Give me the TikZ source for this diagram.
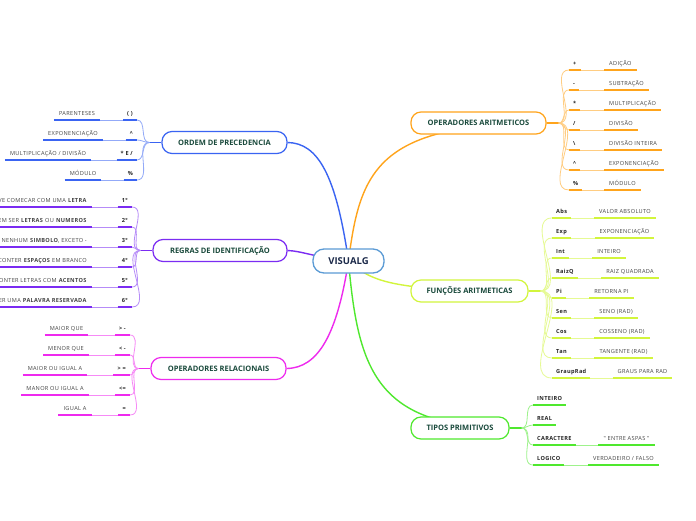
\documentclass[tikz,border=0pt]{standalone}
\usepackage{fontspec}
\setmainfont{Open Sans}
\newfontfamily\leaffont[LetterSpace=6]{Open Sans}
\usepackage{xcolor}
\usetikzlibrary{positioning,backgrounds}
\definecolor{CT}{HTML}{5B9BD5}
\definecolor{NV}{HTML}{1C2A4A}
\definecolor{TG}{HTML}{1A4A3C}
\definecolor{BL}{HTML}{3A64F2}
\definecolor{PU}{HTML}{7B2CF2}
\definecolor{MG}{HTML}{EE2AEE}
\definecolor{OR}{HTML}{FFA41B}
\definecolor{LM}{HTML}{D2F53C}
\definecolor{GR}{HTML}{4FE82E}
\definecolor{TX}{HTML}{444444}
\tikzset{
  root/.style={draw=CT, fill=white, line width=1.3pt, rounded corners=11pt,
    minimum width=71, minimum height=24,
    font=\fontsize{9.5}{11}\selectfont\bfseries\color{NV}},
  branch/.style={draw=#1, fill=white, line width=1.2pt, rounded corners=10pt,
    minimum height=22,
    font=\fontsize{7.5}{9}\selectfont\bfseries\color{TG}},
  key/.style={inner xsep=4pt, inner ysep=3.5pt, text height=4.2pt, text depth=1pt,
    font=\leaffont\fontsize{5.6}{7}\selectfont\bfseries\color{black!85}},
  desc/.style={key, inner xsep=5pt,
    font=\leaffont\fontsize{5.6}{7}\selectfont\color{TX}},
  mainlink/.style={draw=#1, line width=1.4pt},
  twig/.style={draw=#1!55, line width=0.8pt},
  bar/.style={draw=#1, line width=1.6pt}
}

\begin{document}
\begin{tikzpicture}[x=1pt, y=-1pt]
  \useasboundingbox (0,0) rectangle (696,520);
  \clip (0,0) rectangle (696,520);

  % root and main topics
  \node[root] (vis) at (348.5,261) {VISUALG};
  \node[branch=BL, minimum width=125] (ordem) at (224.5,142.5) {ORDEM DE PRECEDENCIA};
  \node[branch=PU, minimum width=134] (regras) at (220,250.5) {REGRAS DE IDENTIFICAÇÃO};
  \node[branch=MG, minimum width=135] (rel) at (218.5,368.5) {OPERADORES RELACIONAIS};
  \node[branch=OR, minimum width=135] (arit) at (478.5,123) {OPERADORES ARITMETICOS};
  \node[branch=LM, minimum width=117] (func) at (469.5,291) {FUNÇÕES ARITMETICAS};
  \node[branch=GR, minimum width=98] (tipos) at (460,428) {TIPOS PRIMITIVOS};

  \coordinate (jo) at ([xshift=-12]ordem.west);
  \coordinate (jr) at ([xshift=-12]regras.west);
  \coordinate (jl) at ([xshift=-12]rel.west);
  \coordinate (ja) at ([xshift=12]arit.east);
  \coordinate (jf) at ([xshift=12]func.east);
  \coordinate (jt) at ([xshift=12]tipos.east);

  \begin{scope}[on background layer]
    \fill[white] (0,0) rectangle (696,520);
    \draw[mainlink=BL] (vis.center) .. controls (336,175) and (318,143) .. (ordem.east);
    \draw[mainlink=PU] (vis.center) .. controls (318,258) and (302,251) .. (regras.east);
    \draw[mainlink=MG] (vis.center) .. controls (337,335) and (318,368) .. (rel.east);
    \draw[mainlink=OR] (vis.center) .. controls (360,170) and (378,123) .. (arit.east);
    \draw[mainlink=LM] (vis.center) .. controls (372,282) and (392,291) .. (func.east);
    \draw[mainlink=GR] (vis.center) .. controls (358,370) and (376,428) .. (tipos.east);
  \end{scope}
  \draw[mainlink=BL] (ordem.west) -- (jo);
  \draw[mainlink=PU] (regras.west) -- (jr);
  \draw[mainlink=MG] (rel.west) -- (jl);
  \draw[mainlink=OR] (arit.east) -- (ja);
  \draw[mainlink=LM] (func.east) -- (jf);
  \draw[mainlink=GR] (tipos.east) -- (jt);

  % ordem de precedencia
  \foreach \y/\k/\d/\dx [count=\i] in {
      120/{( )}/PARENTESES/77,
      140/\textasciicircum/EXPONENCIAÇÃO/73,
      160/{* E /}/{MULTIPLICAÇÃO / DIVISÃO}/48,
      180/\%/MÓDULO/83}{
    \node[key, anchor=south east] (ok\i) at (137,\y) {\k};
    \node[desc, anchor=south] (od\i) at (\dx,\y) {\d};
    \draw[twig=BL] (jo) to[out=180,in=0] (ok\i.south east);
    \draw[twig=BL] (ok\i.south west) -- (od\i.south east);
    \draw[bar=BL] (ok\i.south west) -- (ok\i.south east);
    \draw[bar=BL] (od\i.south west) -- (od\i.south east);
  }

  % regras de identificacao
  \foreach \y/\k/\d [count=\i] in {
      207/1°/{VE COMECAR COM UMA \textbf{LETRA}},
      227/2°/{EM SER \textbf{LETRAS} OU \textbf{NUMEROS}},
      247/3°/{NENHUM \textbf{SIMBOLO}, EXCETO -},
      267/4°/{CONTER \textbf{ESPAÇOS} EM BRANCO},
      287/5°/{CONTER LETRAS COM \textbf{ACENTOS}},
      307/6°/{ER UMA \textbf{PALAVRA RESERVADA}}}{
    \node[key, anchor=south east] (rk\i) at (132,\y) {\k};
    \node[desc, anchor=south east] (rd\i) at (92,\y) {\d};
    \draw[twig=PU] (jr) to[out=180,in=0] (rk\i.south east);
    \draw[twig=PU] (rk\i.south west) -- (rd\i.south east);
    \draw[bar=PU] (rk\i.south west) -- (rk\i.south east);
    \draw[bar=PU] (0,\y) -- (rd\i.south east);
  }

  % operadores relacionais
  \foreach \y/\k/\d/\dx [count=\i] in {
      335/{> -}/MAIOR QUE/66.5,
      355/{< -}/MENOR QUE/66,
      375/{> =}/MAIOR OU IGUAL A/55,
      395/{<=}/MANOR OU IGUAL A/55,
      415/{=}/IGUAL A/75}{
    \node[key, anchor=south east] (lk\i) at (130,\y) {\k};
    \node[desc, anchor=south] (ld\i) at (\dx,\y) {\d};
    \draw[twig=MG] (jl) to[out=180,in=0] (lk\i.south east);
    \draw[twig=MG] (lk\i.south west) -- (ld\i.south east);
    \draw[bar=MG] (lk\i.south west) -- (lk\i.south east);
    \draw[bar=MG] (ld\i.south west) -- (ld\i.south east);
  }

  % operadores aritmeticos
  \foreach \y/\k/\d [count=\i] in {
      70/+/ADIÇÃO, 90/-/SUBTRAÇÃO, 110/*/MULTIPLICAÇÃO,
      130/{/}/DIVISÃO, 150/\textbackslash/DIVISÃO INTEIRA,
      170/\textasciicircum/EXPONENCIAÇÃO, 190/\%/MÓDULO}{
    \node[key, anchor=south west] (ak\i) at (569,\y) {\k};
    \node[desc, anchor=south west] (ad\i) at (604,\y) {\d};
    \draw[twig=OR] (ja) to[out=0,in=180] (ak\i.south west);
    \draw[twig=OR] (ak\i.south east) -- (ad\i.south west);
    \draw[bar=OR] (ak\i.south west) -- (ak\i.south east);
    \draw[bar=OR] (ad\i.south west) -- (ad\i.south east);
  }

  % funcoes aritmeticas
  \foreach \y/\k/\d/\dx [count=\i] in {
      218/Abs/VALOR ABSOLUTO/625,
      238/Exp/EXPONENCIAÇÃO/624.5,
      258/Int/INTEIRO/609,
      278/RaizQ/RAIZ QUADRADA/630,
      298/Pi/RETORNA PI/611.5,
      318/Sen/SENO (RAD)/616,
      338/Cos/COSSENO (RAD)/622,
      358/Tan/TANGENTE (RAD)/623.5,
      378/GraupRad/GRAUS PARA RAD/642.5}{
    \node[key, anchor=south west] (fk\i) at (552,\y) {\k};
    \node[desc, anchor=south] (fd\i) at (\dx,\y) {\d};
    \draw[twig=LM] (jf) to[out=0,in=180] (fk\i.south west);
    \draw[twig=LM] (fk\i.south east) -- (fd\i.south west);
    \draw[bar=LM] (fk\i.south west) -- (fk\i.south east);
    \draw[bar=LM] (fd\i.south west) -- (fd\i.south east);
  }

  % tipos primitivos
  \foreach \y/\k [count=\i] in {405/INTEIRO, 425/REAL, 445/CARACTERE, 465/LOGICO}{
    \node[key, anchor=south west] (tk\i) at (533,\y) {\k};
    \draw[twig=GR] (jt) to[out=0,in=180] (tk\i.south west);
    \draw[bar=GR] (tk\i.south west) -- (tk\i.south east);
  }
  \node[desc, anchor=south] (td3) at (626.5,445) {" ENTRE ASPAS "};
  \node[desc, anchor=south] (td4) at (623.5,465) {VERDADEIRO / FALSO};
  \draw[twig=GR] (tk3.south east) -- (td3.south west);
  \draw[twig=GR] (tk4.south east) -- (td4.south west);
  \draw[bar=GR] (td3.south west) -- (td3.south east);
  \draw[bar=GR] (td4.south west) -- (td4.south east);
\end{tikzpicture}
\end{document}
